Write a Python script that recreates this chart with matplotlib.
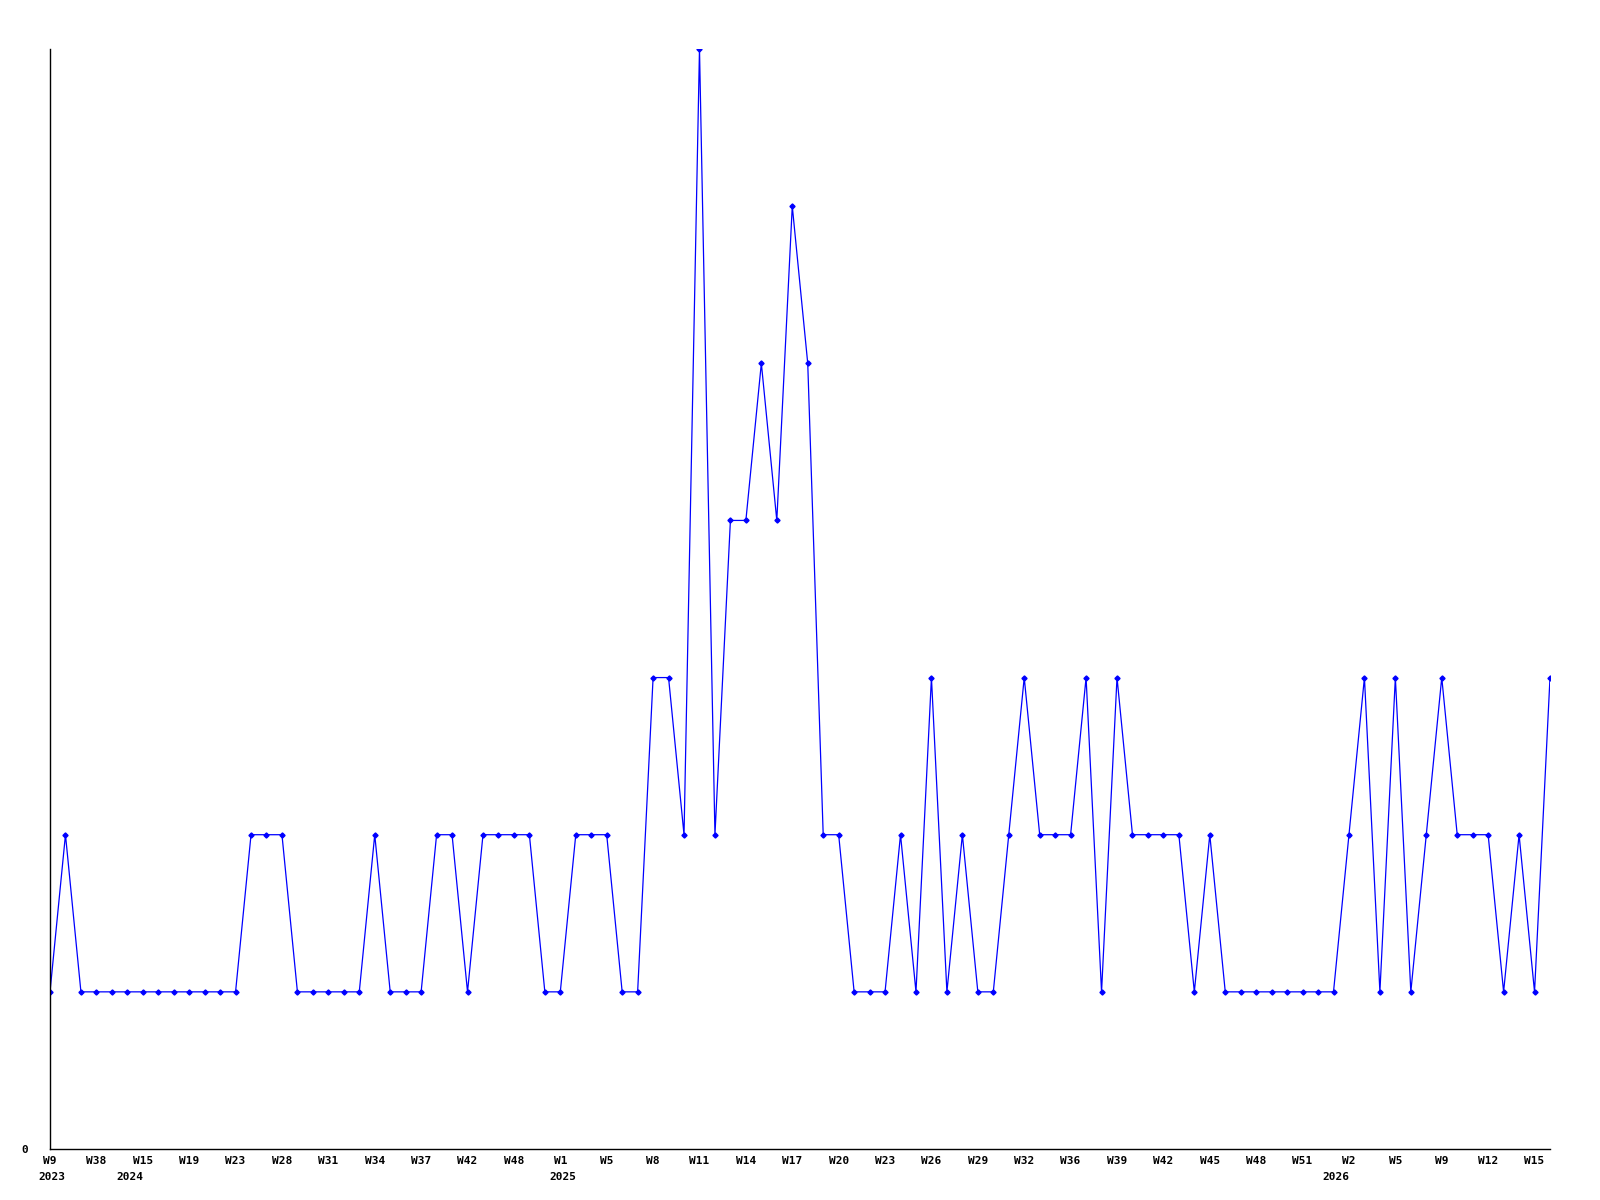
import matplotlib
matplotlib.use("Agg")
import matplotlib.pyplot as plt

# weekly counts, one value per point
values = [1, 2, 1, 1, 1, 1, 1, 1, 1, 1, 1, 1, 1,
          2, 2, 2, 1, 1, 1, 1, 1, 2, 1, 1, 1, 2, 2, 1,
          2, 2, 2, 2, 1, 1, 2, 2, 2, 1, 1, 3, 3, 2, 7,
          2, 4, 4, 5, 4, 6, 5, 2, 2, 1, 1, 1, 2, 1, 3,
          1, 2, 1, 1, 2, 3, 2, 2, 2, 3, 1, 3, 2, 2, 2,
          2, 1, 2, 1, 1, 1, 1, 1, 1, 1, 1, 2, 3, 1, 3,
          1, 2, 3, 2, 2, 2, 1, 2, 1, 3]

tick_labels = ["W9", "W38", "W15", "W19", "W23", "W28", "W31", "W34", "W37",
               "W42", "W48", "W1", "W5", "W8", "W11", "W14", "W17", "W20",
               "W23", "W26", "W29", "W32", "W36", "W39", "W42", "W45", "W48",
               "W51", "W2", "W5", "W9", "W12", "W15"]
tick_step = 3

years = ["2023", "2024", "2025", "2026"]
year_x = [-0.75, 4.3, 32.3, 82.3]

x = list(range(len(values)))

fig = plt.figure(figsize=(16, 12), dpi=100)
ax = fig.add_axes([50 / 1600, 1 - 1149 / 1200, 1500 / 1600, 1100 / 1200])

ax.plot(x, values, color="#0000ff", linewidth=0.9, marker="D",
        markersize=2.6, markerfacecolor="#0000ff", markeredgecolor="#0000ff")

ax.set_xlim(0, len(values) - 1)
ax.set_ylim(0, 7)

for s in ["top", "right"]:
    ax.spines[s].set_visible(False)
for s in ["left", "bottom"]:
    ax.spines[s].set_linewidth(1.0)
    ax.spines[s].set_color("black")

font = dict(family="DejaVu Sans Mono", weight="bold", size=8)

ax.set_xticks(range(0, len(values), tick_step))
ax.set_xticklabels(tick_labels, **font)
ax.set_yticks([0])
ax.set_yticklabels(["0"], **font)
ax.tick_params(axis="both", length=0)
ax.tick_params(axis="x", pad=5)
ax.tick_params(axis="y", pad=16)

for yr, xp in zip(years, year_x):
    ax.text(xp, -0.18, yr, ha="left", va="center", **font)

fig.savefig("out.png", dpi=100)
